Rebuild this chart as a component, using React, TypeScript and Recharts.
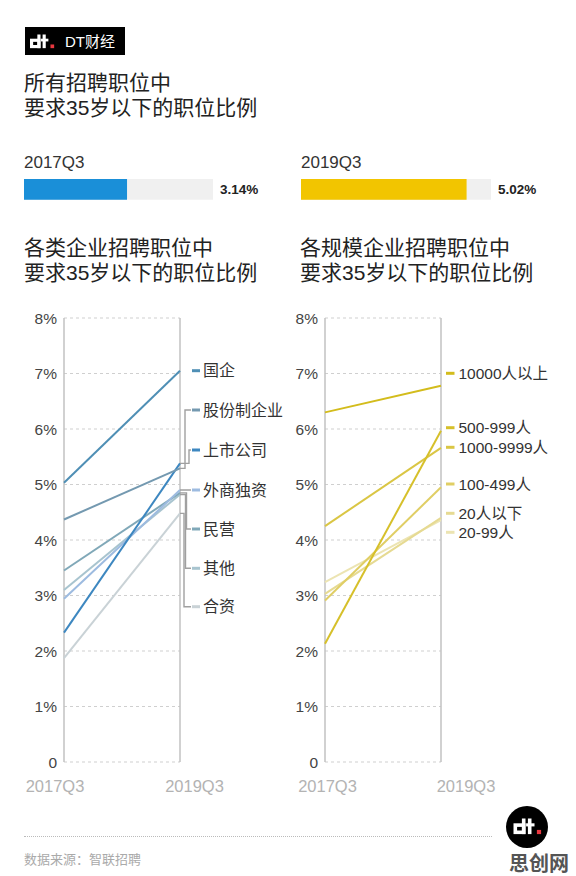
import React from 'react';
import { LineChart, Line, XAxis, YAxis, CartesianGrid, ReferenceLine, BarChart, Bar } from 'recharts';

// ---- data ----
const periods = ['2017Q3', '2019Q3'];
const yTicks = [0, 1, 2, 3, 4, 5, 6, 7, 8];

const overallNames = ['2017Q3', '2019Q3'];
const overallValues = [3.14, 5.02];

const ownershipNames = ['国企', '股份制企业', '上市公司', '外商独资', '民营', '其他', '合资'];
const ownership2017 = [5.03, 4.37, 2.33, 2.94, 3.45, 3.1, 1.87];
const ownership2019 = [7.05, 5.29, 5.38, 4.9, 4.85, 4.82, 4.48];

const sizeNames = ['10000人以上', '500-999人', '1000-9999人', '100-499人', '20人以下', '20-99人'];
const size2017 = [6.3, 2.13, 4.25, 2.91, 3.03, 3.24];
const size2019 = [6.78, 5.97, 5.66, 4.95, 4.4, 4.36];

// ---- styles / layout ----
const FONT = '"Liberation Sans", "Noto Sans CJK SC", sans-serif';
const ownershipColors = ['#4f8fb5', '#7499b0', '#3d87c0', '#9dbbe0', '#80a8b8', '#a8c4cf', '#c9d2d6'];
const sizeColors = ['#d3bc1c', '#d6c02a', '#dac644', '#e0ce64', '#e6da92', '#ece4b2'];
// label rows (chart-local px) and bracket x for the left chart
const ownershipLabelY = [70.7, 110, 150, 190, 229, 268.3, 306.7];
const ownershipBracketX = [null, 185, 189, 187, 186.5, 185.5, 184];
const sizeLabelY = [73.3, 127.7, 147.3, 184, 213.3, 232.3];

const CHART_W = 300;
const CHART_H = 510;
const MARGIN = { top: 18, right: 120, bottom: 8, left: 0 };

function buildRows(names: string[], start: number[], end: number[]) {
  return periods.map((p, pi) => {
    const row: any = { period: p };
    names.forEach((n, i) => {
      row[n] = pi === 0 ? start[i] : end[i];
    });
    return row;
  });
}

const ownershipRows = buildRows(ownershipNames, ownership2017, ownership2019);
const sizeRows = buildRows(sizeNames, size2017, size2019);

const YTick = (props: any) => {
  const { y, payload } = props;
  return (
    <text x={57} y={y} textAnchor="end" dominantBaseline="central" fontSize={15.5} fill="#444" fontFamily={FONT}>
      {payload.value === 0 ? '0' : `${payload.value}%`}
    </text>
  );
};

const makeXTick = (offsets: number[]) => (props: any) => {
  const { x, index, payload } = props;
  return (
    <text x={x + offsets[index]} y={486} textAnchor="middle" dominantBaseline="central" fontSize={16.5} fill="#b3b3b3" fontFamily={FONT}>
      {payload.value}
    </text>
  );
};

const makeOwnershipLabel = (i: number) => (props: any) => {
  const { x, y, index } = props;
  if (index !== 1) return <g />;
  const ly = ownershipLabelY[i];
  const bx = ownershipBracketX[i];
  return (
    <g>
      {bx !== null && (
        <path d={`M${x},${y} H${bx} V${ly} H${x + 11}`} fill="none" stroke="#a0a0a0" strokeWidth={1.4} />
      )}
      <line x1={x + 12} x2={x + 20} y1={ly} y2={ly} stroke={ownershipColors[i]} strokeWidth={3} />
      <text x={x + 23} y={ly} dominantBaseline="central" fontSize={16} fill="#333" fontFamily={FONT}>
        {ownershipNames[i]}
      </text>
    </g>
  );
};

const makeSizeLabel = (i: number) => (props: any) => {
  const { x, index } = props;
  if (index !== 1) return <g />;
  const ly = sizeLabelY[i];
  return (
    <g>
      <line x1={x + 5} x2={x + 13.5} y1={ly} y2={ly} stroke={sizeColors[i]} strokeWidth={3} />
      <text x={x + 17.5} y={ly} dominantBaseline="central" fontSize={15.5} fill="#333" fontFamily={FONT}>
        {sizeNames[i]}
      </text>
    </g>
  );
};

interface SlopeProps {
  rows: any[];
  names: string[];
  colors: string[];
  xOffsets: number[];
  labelFor: (i: number) => (props: any) => any;
}

const SlopeChart: React.FC<SlopeProps> = ({ rows, names, colors, xOffsets, labelFor }) => {
  const order = names.map((_, i) => i).reverse();
  return (
    <LineChart width={CHART_W} height={CHART_H} data={rows} margin={MARGIN}>
      <CartesianGrid vertical={false} stroke="#cfcfcf" strokeDasharray="3 3" />
      <XAxis
        dataKey="period"
        height={40}
        axisLine={false}
        tickLine={false}
        padding={{ left: 0, right: 0 }}
        interval={0}
        tick={makeXTick(xOffsets)}
      />
      <YAxis
        width={64}
        domain={[0, 8]}
        ticks={yTicks}
        axisLine={false}
        tickLine={false}
        tick={<YTick />}
      />
      <ReferenceLine x={periods[0]} stroke="#c2c2c2" strokeWidth={1.5} />
      <ReferenceLine x={periods[1]} stroke="#c2c2c2" strokeWidth={1.5} />
      {order.map((i) => (
        <Line
          key={names[i]}
          dataKey={names[i]}
          stroke={colors[i]}
          strokeWidth={2}
          dot={false}
          activeDot={false}
          isAnimationActive={false}
          label={labelFor(i)}
        />
      ))}
    </LineChart>
  );
};

const Glyph: React.FC<{ x: number; y: number; s: number }> = ({ x, y, s }) => (
  <g transform={`translate(${x},${y}) scale(${s})`}>
    <rect x={0} y={4} width={10} height={9} fill="#fff" />
    <rect x={3} y={7} width={4} height={3} fill="#000" />
    <rect x={7} y={0} width={3} height={13} fill="#fff" />
    <rect x={12} y={0} width={3} height={13} fill="#fff" />
    <rect x={10.5} y={4} width={7} height={2.6} fill="#fff" />
    <rect x={19.5} y={9.5} width={3.5} height={3.5} fill="#e8373f" />
  </g>
);

const OverallBar: React.FC<{ value: number; color: string; width: number }> = ({ value, color, width }) => (
  <BarChart width={width} height={23} data={[{ v: value }]} layout="vertical" margin={{ top: 0, right: 0, bottom: 0, left: 0 }}>
    <XAxis type="number" domain={[0, 5.76]} hide />
    <YAxis type="category" hide />
    <Bar dataKey="v" fill={color} barSize={23} background={{ fill: '#f0f0f0' }} isAnimationActive={false} />
  </BarChart>
);

const abs = (left: number, top: number): React.CSSProperties => ({ position: 'absolute', left, top });

export default function App() {
  return (
    <div style={{ position: 'absolute', left: 0, top: 0, width: 576, height: 876, background: '#fff', fontFamily: FONT, color: '#222', overflow: 'hidden' }}>
      {/* logo */}
      <svg style={abs(25, 27)} width={100} height={28}>
        <rect width={100} height={28} fill="#000" />
        <Glyph x={5} y={7.5} s={1.05} />
        <text x={40} y={14.5} dominantBaseline="central" fontSize={15} fill="#fff" fontFamily={FONT}>DT财经</text>
      </svg>

      <div style={{ ...abs(24, 69.5), fontSize: 21, lineHeight: '25px' }}>
        所有招聘职位中<br />要求35岁以下的职位比例
      </div>

      <div style={{ ...abs(24, 153), fontSize: 17, color: '#333' }}>{overallNames[0]}</div>
      <div style={abs(24, 178)}>
        <OverallBar value={overallValues[0]} color="#1a8fd8" width={189} />
      </div>
      <div style={{ ...abs(220, 182), fontSize: 13.5, fontWeight: 700, color: '#222' }}>{overallValues[0].toFixed(2)}%</div>

      <div style={{ ...abs(301, 153), fontSize: 17, color: '#333' }}>{overallNames[1]}</div>
      <div style={abs(301, 178)}>
        <OverallBar value={overallValues[1]} color="#f2c500" width={190} />
      </div>
      <div style={{ ...abs(498, 182), fontSize: 13.5, fontWeight: 700, color: '#222' }}>{overallValues[1].toFixed(2)}%</div>

      <div style={{ ...abs(24, 235), fontSize: 21, lineHeight: '25px' }}>
        各类企业招聘职位中<br />要求35岁以下的职位比例
      </div>
      <div style={{ ...abs(300, 235), fontSize: 21, lineHeight: '25px' }}>
        各规模企业招聘职位中<br />要求35岁以下的职位比例
      </div>

      <div style={abs(0, 300)}>
        <SlopeChart rows={ownershipRows} names={ownershipNames} colors={ownershipColors} xOffsets={[-9, 14.5]} labelFor={makeOwnershipLabel} />
      </div>
      <div style={abs(261, 300)}>
        <SlopeChart rows={sizeRows} names={sizeNames} colors={sizeColors} xOffsets={[2.5, 25]} labelFor={makeSizeLabel} />
      </div>

      {/* footer */}
      <div style={{ ...abs(24, 836), width: 468, borderTop: '1px dotted #bbb' }} />
      <div style={{ ...abs(24, 849), fontSize: 13, color: '#aaa' }}>数据来源：智联招聘</div>
      <svg style={abs(505, 805)} width={44} height={44}>
        <circle cx={22} cy={22} r={21} fill="#000" />
        <Glyph x={8.5} y={13.5} s={1.2} />
      </svg>
      <div style={{ ...abs(509, 848), fontSize: 20, fontWeight: 700, color: '#555' }}>思创网</div>
    </div>
  );
}
